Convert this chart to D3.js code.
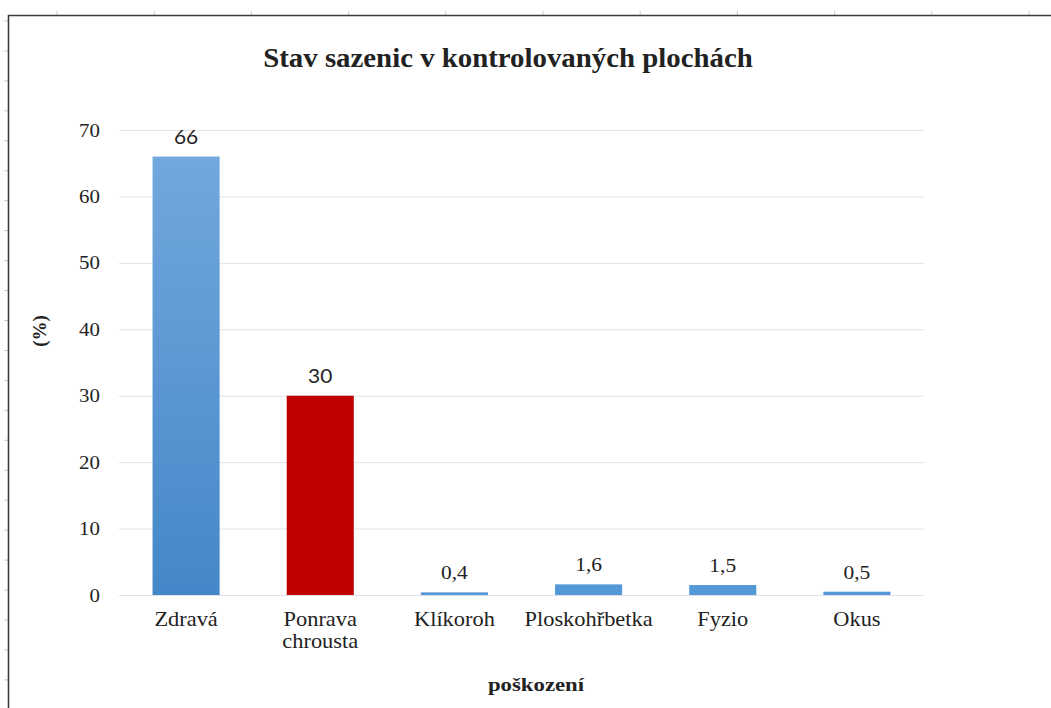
<!DOCTYPE html>
<html>
<head>
<meta charset="utf-8">
<script src="https://cdn.jsdelivr.net/npm/d3@7"></script>
<style>
  body { margin: 0; background: #fff; }
  svg text { fill: #222; }
</style>
</head>
<body>
<div id="chart"></div>
<script>
// data
var categories = ['Zdravá', 'Ponrava chrousta', 'Klíkoroh', 'Ploskohřbetka', 'Fyzio', 'Okus'];
var values = [66, 30, 0.4, 1.6, 1.5, 0.5];
var valueLabels = ['66', '30', '0,4', '1,6', '1,5', '0,5'];
var yTicks = [0, 10, 20, 30, 40, 50, 60, 70];

var W = 1051, H = 708;
var margin = {top: 130, right: 127, bottom: 113, left: 119},
    width = W - margin.left - margin.right,
    height = H - margin.top - margin.bottom;
var serif = '"Liberation Serif", serif';

// the reference text is a bit wider than it is tall
function widen(sel, sx){
    sel.attr('transform', function(){
        var t = d3.select(this), px = +t.attr('x') || 0, py = +t.attr('y') || 0;
        return 'translate(' + px + ',' + py + ') scale(' + sx + ',1) translate(' + (-px) + ',' + (-py) + ')';
    });
}

var svg = d3.select('#chart').append('svg')
    .attr('width', W)
    .attr('height', H);

var defs = svg.append('defs');
var grad = defs.append('linearGradient').attr('id', 'blueGrad')
    .attr('x1', 0).attr('y1', 0).attr('x2', 0).attr('y2', 1);
grad.append('stop').attr('offset', '0%').attr('stop-color', '#72a8dd');
grad.append('stop').attr('offset', '100%').attr('stop-color', '#4487c8');

// sheet ruler ticks outside the frame
var rulerX = d3.range(57, W, 97.2);
svg.selectAll('.rx').data(rulerX).enter().append('line')
    .attr('x1', d => d).attr('x2', d => d)
    .attr('y1', 11).attr('y2', 15)
    .attr('stroke', '#c8c8c8');
var rulerY = d3.range(21, H, 29.95);
svg.selectAll('.ry').data(rulerY).enter().append('line')
    .attr('x1', 4).attr('x2', 8)
    .attr('y1', d => d).attr('y2', d => d)
    .attr('stroke', '#c8c8c8');

// frame (top and left only visible)
svg.append('path')
    .attr('d', 'M8.5,' + H + ' V15.5 H' + W)
    .attr('fill', 'none')
    .attr('stroke', '#3c3c3c')
    .attr('stroke-width', 1.6);

var g = svg.append('g')
    .attr('transform', 'translate(' + margin.left + ',' + margin.top + ')');

var x = d3.scaleBand()
    .domain(categories)
    .range([0, width])
    .paddingInner(0.5)
    .paddingOuter(0.25);

var y = d3.scaleLinear()
    .domain([0, 70])
    .range([height, 0]);

// gridlines
g.selectAll('.grid').data(yTicks).enter().append('line')
    .attr('x1', 0).attr('x2', width)
    .attr('y1', d => y(d) + 0.5).attr('y2', d => y(d) + 0.5)
    .attr('stroke', '#dfe1e8')
    .attr('stroke-width', 1);

// y axis
var yAxis = g.append('g')
    .call(d3.axisLeft(y).tickValues(yTicks).tickSize(0).tickPadding(18));
yAxis.select('.domain').remove();
yAxis.selectAll('text')
    .attr('font-family', serif)
    .attr('font-size', 19)
    .attr('fill', '#222')
    .attr('x', -19)
    .call(widen, 1.1);

// bars
g.selectAll('.bar').data(values).enter().append('rect')
    .attr('x', (d, i) => x(categories[i]))
    .attr('y', d => y(d))
    .attr('width', x.bandwidth())
    .attr('height', d => height - y(d))
    .attr('fill', (d, i) => i == 1 ? '#c00000' : (i == 0 ? 'url(#blueGrad)' : '#5598d8'));

// value labels
g.selectAll('.vlabel').data(values).enter().append('text')
    .attr('x', (d, i) => x(categories[i]) + x.bandwidth() / 2)
    .attr('y', d => y(d) - 13)
    .attr('text-anchor', 'middle')
    .attr('font-family', (d, i) => i < 2 ? 'Lato, "Open Sans", sans-serif' : serif)
    .attr('font-size', (d, i) => i < 2 ? 19 : 19.5)
    .text((d, i) => valueLabels[i])
    .call(widen, 1.1);

// x category labels (wrapped)
var xl = g.selectAll('.xlabel').data(categories).enter().append('text')
    .attr('x', d => x(d) + x.bandwidth() / 2)
    .attr('y', height + 31)
    .attr('text-anchor', 'middle')
    .attr('font-family', serif)
    .attr('font-size', 20);
xl.each(function(d) {
    var words = d == 'Ponrava chrousta' ? d.split(' ') : [d];
    var t = d3.select(this);
    words.forEach(function(w, k) {
        t.append('tspan')
            .attr('x', t.attr('x'))
            .attr('dy', k == 0 ? 0 : 22)
            .text(w);
    });
});
xl.call(widen, 1.12);

// title
svg.append('text')
    .attr('x', 508)
    .attr('y', 67)
    .attr('text-anchor', 'middle')
    .attr('font-family', serif)
    .attr('font-weight', 'bold')
    .attr('font-size', 28)
    .text('Stav sazenic v kontrolovaných plochách')
    .call(widen, 1.03);

// axis titles
svg.append('text')
    .attr('transform', 'translate(46,331) rotate(-90)')
    .attr('text-anchor', 'middle')
    .attr('font-family', serif)
    .attr('font-weight', 'bold')
    .attr('font-size', 19)
    .text('(%)');

svg.append('text')
    .attr('x', 536)
    .attr('y', 691)
    .attr('text-anchor', 'middle')
    .attr('font-family', serif)
    .attr('font-weight', 'bold')
    .attr('font-size', 19)
    .text('poškození')
    .call(widen, 1.2);
</script>
</body>
</html>
